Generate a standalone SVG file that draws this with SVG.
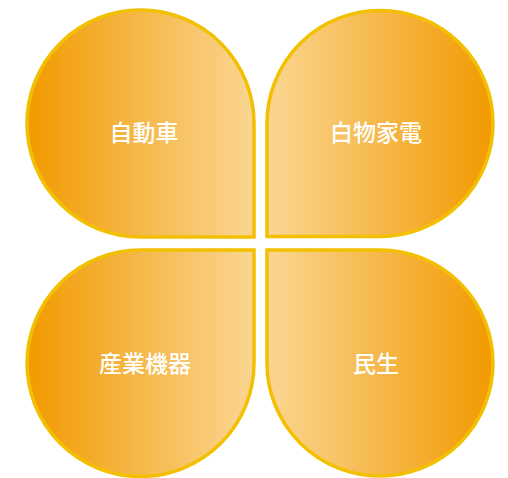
<svg xmlns="http://www.w3.org/2000/svg" width="508" height="478" viewBox="0 0 508 478">
  <defs>
    <linearGradient id="gL" x1="0" y1="0" x2="1" y2="0">
      <stop offset="0" stop-color="#F29A00"/>
      <stop offset="1" stop-color="#FAD693"/>
    </linearGradient>
    <linearGradient id="gR" x1="0" y1="0" x2="1" y2="0">
      <stop offset="0" stop-color="#FAD693"/>
      <stop offset="1" stop-color="#F29A00"/>
    </linearGradient>
    <style>
      .petal { stroke: #F2C000; stroke-width: 3.5; stroke-linejoin: miter; }
      .lbl { font-family: "Noto Sans CJK JP", "Noto Sans", sans-serif; font-size: 23px; font-weight: 500; fill: #FFFFFF; text-anchor: middle; dominant-baseline: central; }
    </style>
  </defs>
  <g id="node-jidosha">
    <path class="petal" fill="url(#gL)" d="M140.5,10 A113.5,113.5 0 0 0 27,123.5 A113.5,113.5 0 0 0 140.5,237 L254,237 L254,123.5 A113.5,113.5 0 0 0 140.5,10 Z"/>
    <text class="lbl" x="144" y="131">自動車</text>
  </g>
  <g id="node-shiromono">
    <path class="petal" fill="url(#gR)" d="M380,10.5 A113,113 0 0 1 493,123.5 A113,113 0 0 1 380,236.5 L267,236.5 L267,123.5 A113,113 0 0 1 380,10.5 Z"/>
    <text class="lbl" x="376" y="131">白物家電</text>
  </g>
  <g id="node-sangyo">
    <path class="petal" fill="url(#gL)" d="M254,250 L254,363 A113.5,113.5 0 0 1 140.5,476.5 A113.5,113.5 0 0 1 27,363 A113.5,113.5 0 0 1 140.5,250 Z"/>
    <text class="lbl" x="145" y="362">産業機器</text>
  </g>
  <g id="node-minsei">
    <path class="petal" fill="url(#gR)" d="M267,250 L380,250 A113,113 0 0 1 493,363 A113,113 0 0 1 380,476 A113,113 0 0 1 267,363 Z"/>
    <text class="lbl" x="376" y="362">民生</text>
  </g>
  <g id="connectors"/>
</svg>
